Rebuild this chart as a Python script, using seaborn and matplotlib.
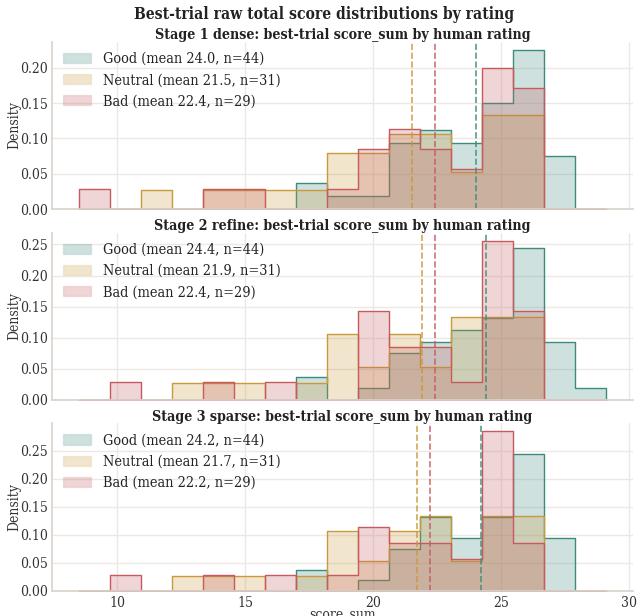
import numpy as np
import matplotlib
matplotlib.use("Agg")
import matplotlib.pyplot as plt
import seaborn as sns
from matplotlib.patches import Patch
from matplotlib.colors import to_rgba

# === data (counts per bin) ===
bin_edges = np.linspace(8.5, 29.1, 18)

ratings = ["Good", "Neutral", "Bad"]
colors = ["#3d8b7d", "#c9993b", "#c65a5e"]

stage_titles = [
    "Stage 1 dense: best-trial score_sum by human rating",
    "Stage 2 refine: best-trial score_sum by human rating",
    "Stage 3 sparse: best-trial score_sum by human rating",
]

good_s1 = [0, 0, 0, 0, 0, 0, 0, 2, 1, 1, 5, 6, 5, 8, 12, 4, 0]
neutral_s1 = [0, 0, 1, 0, 1, 1, 1, 1, 3, 3, 4, 4, 2, 5, 5, 0, 0]
bad_s1 = [1, 0, 0, 0, 1, 1, 0, 0, 1, 3, 4, 3, 2, 7, 6, 0, 0]

good_s2 = [0, 0, 0, 0, 0, 0, 0, 2, 0, 1, 4, 5, 6, 7, 13, 5, 1]
neutral_s2 = [0, 0, 0, 1, 1, 1, 0, 1, 4, 2, 4, 2, 5, 5, 5, 0, 0]
bad_s2 = [0, 1, 0, 0, 1, 0, 1, 0, 0, 5, 3, 3, 1, 9, 5, 0, 0]

good_s3 = [0, 0, 0, 0, 0, 0, 0, 2, 0, 1, 4, 7, 5, 7, 13, 5, 0]
neutral_s3 = [0, 0, 0, 1, 1, 1, 0, 1, 4, 2, 4, 5, 2, 5, 5, 0, 0]
bad_s3 = [0, 1, 0, 0, 1, 0, 1, 0, 1, 4, 3, 3, 2, 10, 3, 0, 0]

means_s1 = [24.0, 21.5, 22.4]
means_s2 = [24.4, 21.9, 22.4]
means_s3 = [24.2, 21.7, 22.2]

n_per_rating = [44, 31, 29]

stage_counts = [
    [good_s1, neutral_s1, bad_s1],
    [good_s2, neutral_s2, bad_s2],
    [good_s3, neutral_s3, bad_s3],
]
stage_means = [means_s1, means_s2, means_s3]

bin_centers = (bin_edges[:-1] + bin_edges[1:]) / 2

# === style ===
sns.set_theme(style="whitegrid")
plt.rcParams["font.family"] = ["DejaVu Serif"]
plt.rcParams["font.stretch"] = "condensed"
plt.rcParams["grid.color"] = "#ece9e4"
plt.rcParams["axes.edgecolor"] = "#d9d4cc"
plt.rcParams["text.color"] = "#222222"
plt.rcParams["axes.labelcolor"] = "#333333"
plt.rcParams["xtick.color"] = "#333333"
plt.rcParams["ytick.color"] = "#333333"

fig, axes = plt.subplots(3, 1, figsize=(6.39, 6.16), dpi=100, sharex=True)
fig.subplots_adjust(left=0.082, right=0.99, top=0.932, bottom=0.041, hspace=0.14)

for ax, counts, means, title in zip(axes, stage_counts, stage_means, stage_titles):
    handles = []
    for rating, c, cnt, m, n in zip(ratings, colors, counts, means, n_per_rating):
        values = np.repeat(bin_centers, cnt)
        sns.histplot(x=values, bins=bin_edges, stat="density", element="step",
                     fill=True, alpha=0.25, color=c, linewidth=1.0, ax=ax)
        handles.append(Patch(facecolor=to_rgba(c, 0.25), edgecolor=to_rgba(c, 0.15),
                             label=f"{rating} (mean {m:.1f}, n={n})"))
    for c, m in zip(colors, means):
        ax.axvline(m, color=c, linestyle="--", linewidth=1.2, alpha=0.85)
    ax.set_title(title, fontsize=10.2, fontweight="bold", pad=2)
    ax.set_ylabel("Density", fontsize=10, labelpad=-1)
    ax.tick_params(labelsize=10, length=0)
    ax.legend(handles=handles, loc="upper left", frameon=False, fontsize=10.4,
              handlelength=2.0, borderaxespad=0.3)
    sns.despine(ax=ax)

axes[-1].set_xlabel("score_sum", fontsize=10, labelpad=-1.5)
axes[-1].set_xticks([10, 15, 20, 25, 30])
fig.suptitle("Best-trial raw total score distributions by rating",
             fontsize=11.2, fontweight="bold", x=0.508, y=0.99)

plt.savefig("out.png", dpi=100)
